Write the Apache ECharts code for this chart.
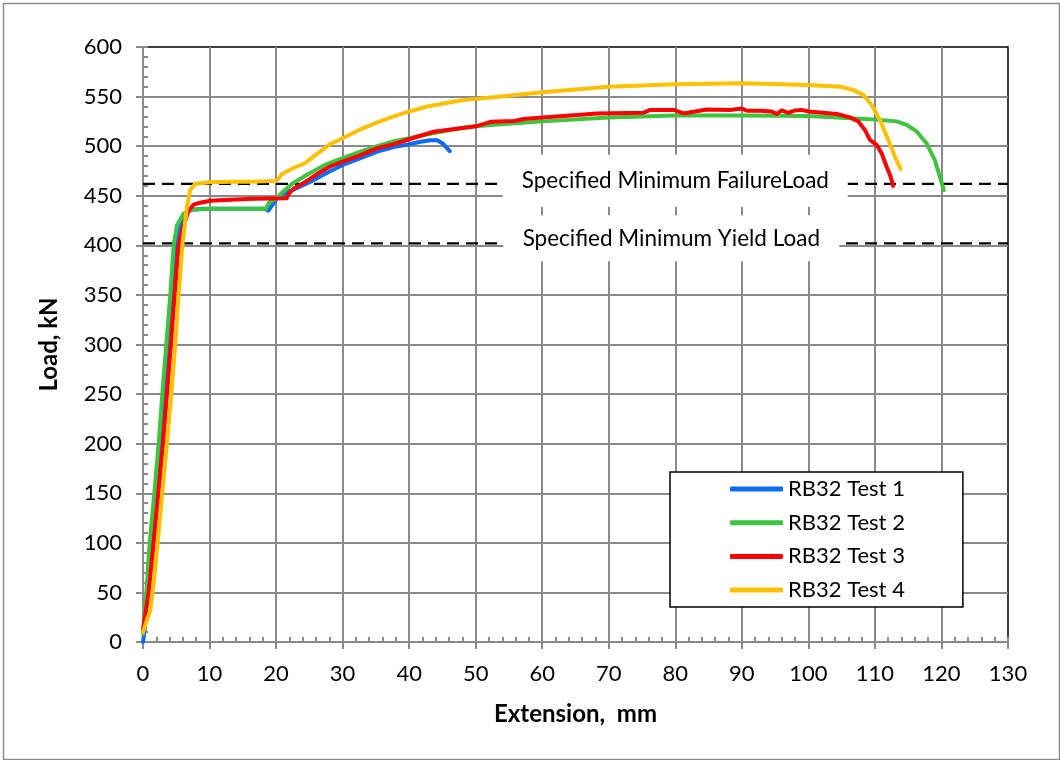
<!DOCTYPE html>
<html>
<head>
<meta charset="utf-8">
<title>RB32 tensile tests</title>
<script src="https://cdn.jsdelivr.net/npm/echarts@6/dist/echarts.min.js"></script>
<style>
  html, body { margin: 0; padding: 0; background: #fff; }
  #chart { width: 1060px; height: 760px; }
</style>
</head>
<body>
<div id="chart"></div>
<script>
// Load–extension records for the four RB32 bar tests: [extension mm, load kN]
const test1 = [
  [0,0],[0.3,15],[0.7,50],[1.25,100],[2.0,150],[2.7,200],[3.3,250],[3.85,300],[4.5,350],[5.1,400],
  [5.6,420],[6.35,432],[7.35,436],[9,437],[12,437],[15,437],[18.3,437],[18.85,435],[20.1,447],
  [21.6,454],[22.6,456],[25.1,464],[27.6,473],[30,481],[32.7,488],[35.2,494.5],[37.7,499],[40,502],
  [41.7,504.5],[43.2,506],[44.2,506],[45,503],[46.1,495]
];
const test2 = [
  [0,8],[0.2,25],[0.5,50],[1.0,100],[1.7,150],[2.35,200],[2.9,250],[3.5,300],[4.1,350],[4.6,400],
  [5.1,420],[6.1,432],[7.1,436],[10,437],[14,437],[18.5,437],[18.7,435],[18.9,443],[20,447],
  [21.2,455],[22.6,463],[25.1,473],[27.6,482],[30,488],[32.7,494.5],[35.2,500],[37.7,505],[40,508],
  [42.7,512],[45.2,515],[47.7,518],[50,520],[53.8,522],[60,525],[70,529],[80,531],[90,531],
  [100,530.5],[110,527],[113.25,525],[114.75,521.5],[116.25,515],[117.75,503],[119,486],
  [119.75,469.5],[120.35,455.5]
];
const test3 = [
  [0,12],[0.4,30],[0.85,50],[1.6,100],[2.3,150],[3.0,200],[3.6,250],[4.2,300],[4.75,350],[5.35,400],
  [6.1,420],[6.85,435],[7.6,441],[8.6,443],[10.1,445],[13.1,446],[16.6,447],[21.6,447.5],[21.9,452],
  [22.6,457],[24.4,464],[26.4,473],[28.1,479.5],[30,484.5],[32.7,491],[35.2,498],[37.7,502],[40,507],
  [43.7,514.5],[47.7,518],[50,520],[52.25,524.5],[55.75,525.3],[57.25,527.4],[60,529],[65.25,531.4],
  [68.25,533],[75.25,533.8],[76.25,536.5],[79.75,536.5],[81.25,533],[82.75,534.8],[84.75,537],
  [88.25,536.5],[90,538],[90.75,535.8],[92.75,535.8],[94.5,535],[95.25,532.5],[96,536],[97,533.5],
  [98,536],[99,536.6],[100,535],[101.75,534],[104.25,532.5],[106.25,529],[107.5,525],[108.5,516.4],
  [109.25,506.4],[110.25,501.3],[111,493],[111.75,479.5],[112.35,469.5],[112.75,460]
];
const test4 = [
  [0,10],[0.5,20],[1.1,32],[1.6,59],[2.2,100],[2.9,150],[3.6,200],[4.25,250],[4.85,300],[5.35,350],
  [5.95,402],[6.6,439],[7.1,456],[7.85,462],[10.1,463.5],[13.1,464],[16,464],[20.1,465],[20.4,464],
  [20.9,472],[22.6,478],[24.4,483],[25.5,489],[26.9,496],[28.1,502],[30,508],[32.7,517],[35.2,524],
  [37.7,530],[40,535],[42.7,540],[45.2,543],[47.7,546],[50,547.7],[53.8,550],[60,554.4],[70,560],
  [80,562.5],[90,563.5],[100,561.7],[104.75,560],[106.75,556.7],[108.25,551.7],[109.5,541.6],
  [110.75,526.5],[112,506.4],[113,489.6],[113.85,477]
];

const seriesNames = ['RB32 Test 1', 'RB32 Test 2', 'RB32 Test 3', 'RB32 Test 4'];
const seriesColors = ['#0a6cf0', '#40c440', '#ff0000', '#ffc000'];

// Specified minimum loads (kN) drawn as dashed reference lines
const failureLoad = 462;
const yieldLoad = 402;
const failureText = 'Specified Minimum FailureLoad';
const yieldText = 'Specified Minimum Yield Load';

const xMin = 0, xMax = 130, xStep = 10;
const yMin = 0, yMax = 600, yStep = 50;

const FONT = 'Lato';
const chart = echarts.init(document.getElementById('chart'));

const gridGray = '#8a8a8a';

function curve(name, data, color) {
  return {
    name: name,
    type: 'line',
    data: data,
    symbol: 'none',
    showSymbol: false,
    smooth: false,
    z: 3,
    lineStyle: { color: color, width: 4, cap: 'round', join: 'round' },
    itemStyle: { color: color },
    emphasis: { disabled: true },
    animation: false
  };
}

function refLine(load) {
  return {
    type: 'line',
    data: [[xMin, load], [xMax, load]],
    symbol: 'none',
    z: 2,
    silent: true,
    lineStyle: { color: '#000', width: 2.2, type: [12, 7] },
    animation: false
  };
}

// white caption box sitting over a reference line
function refLabel(x, load, text, w, h, padTop, dy) {
  return {
    type: 'scatter',
    data: [[x, load]],
    symbolSize: 0,
    z: 5,
    silent: true,
    itemStyle: { opacity: 1 },
    label: {
      show: true,
      position: 'inside',
      formatter: text,
      backgroundColor: '#fff',
      opacity: 1,
      width: w,
      height: h,
      lineHeight: h,
      padding: [padTop, 0, 0, 0],
      align: 'center',
      verticalAlign: 'middle',
      offset: [0, dy],
      color: '#000',
      fontFamily: FONT,
      fontSize: 22.5
    },
    animation: false
  };
}

const option = {
  backgroundColor: '#fff',
  animation: false,
  textStyle: { fontFamily: FONT },
  grid: {
    left: 143, right: 52, top: 47, bottom: 118,
    show: true,
    borderColor: '#000',
    borderWidth: 1.5,
    backgroundColor: 'transparent'
  },
  xAxis: [
    {
      type: 'value',
      min: xMin, max: xMax, interval: xStep,
      position: 'bottom',
      name: 'Extension,  mm',
      nameLocation: 'middle',
      nameGap: 60,
      nameTextStyle: { fontFamily: FONT, fontSize: 24, fontWeight: 'bold', color: '#000' },
      axisLine: { show: true, onZero: false, lineStyle: { color: gridGray, width: 2 } },
      axisTick: { show: true, inside: false, length: 7, lineStyle: { color: gridGray, width: 2 } },
      axisLabel: { margin: 21, fontFamily: FONT, fontSize: 22, color: '#000' },
      splitLine: { show: true, showMaxLine: false, lineStyle: { color: gridGray, width: 2 } }
    },
    {
      // inward minor ticks every 2 mm
      type: 'value',
      min: xMin, max: xMax, interval: 2,
      position: 'bottom',
      axisLine: { show: false },
      axisTick: { show: true, inside: true, length: 5, lineStyle: { color: gridGray, width: 2 } },
      axisLabel: { show: false },
      splitLine: { show: false }
    }
  ],
  yAxis: [
    {
      type: 'value',
      min: yMin, max: yMax, interval: yStep,
      position: 'left',
      name: 'Load, kN',
      nameLocation: 'middle',
      nameGap: 82,
      nameTextStyle: { fontFamily: FONT, fontSize: 24, fontWeight: 'bold', color: '#000' },
      axisLine: { show: true, onZero: false, lineStyle: { color: gridGray, width: 2 } },
      axisTick: { show: true, inside: false, length: 7, lineStyle: { color: gridGray, width: 2 } },
      axisLabel: { margin: 21, fontFamily: FONT, fontSize: 22, color: '#000' },
      splitLine: { show: true, showMaxLine: false, lineStyle: { color: gridGray, width: 2 } }
    },
    {
      // inward minor ticks every 10 kN
      type: 'value',
      min: yMin, max: yMax, interval: 10,
      position: 'left',
      axisLine: { show: false },
      axisTick: { show: true, inside: true, length: 5, lineStyle: { color: gridGray, width: 2 } },
      axisLabel: { show: false },
      splitLine: { show: false }
    }
  ],
  legend: {
    data: seriesNames.map(function (n) { return { name: n, icon: 'roundRect' }; }),
    orient: 'vertical',
    left: 670,
    top: 472,
    padding: [6, 58, 6, 60],
    itemWidth: 53,
    itemHeight: 5,
    itemGap: 11.7,
    itemTextGap: 6,
    backgroundColor: '#fff',
    borderColor: '#000',
    borderWidth: 1.5,
    selectedMode: false,
    textStyle: { fontFamily: FONT, fontSize: 22, color: '#000', lineHeight: 21 }
  },
  graphic: [
    {
      type: 'rect',
      left: 1, top: 1,
      shape: { width: 1056, height: 756 },
      style: { fill: 'none', stroke: '#8c8c8c', lineWidth: 1.5 },
      silent: true,
      z: 100
    }
  ],
  series: [
    refLine(failureLoad),
    refLine(yieldLoad),
    curve(seriesNames[0], test1, seriesColors[0]),
    curve(seriesNames[1], test2, seriesColors[1]),
    curve(seriesNames[2], test3, seriesColors[2]),
    curve(seriesNames[3], test4, seriesColors[3]),
    refLabel(80, failureLoad, failureText, 345, 48, 4, -3),
    refLabel(79.4, yieldLoad, yieldText, 336, 40, 6, -5)
  ]
};

chart.setOption(option);
</script>
</body>
</html>
